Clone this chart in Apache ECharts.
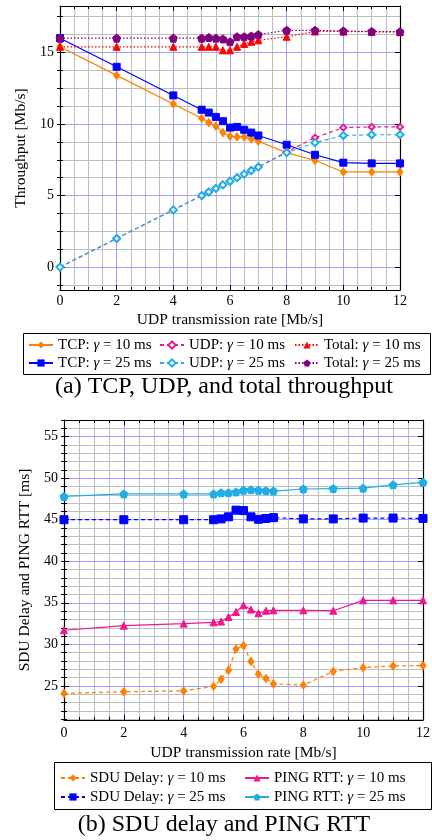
<!DOCTYPE html>
<html><head><meta charset="utf-8">
<script src="https://cdn.jsdelivr.net/npm/echarts@6/dist/echarts.min.js"></script>
<style>html,body{margin:0;padding:0;background:#fff}#c{width:432px;height:840px}</style>
</head><body><div id="c"></div>
<script>
// ---------- data ----------
const rateX = [0,2,4,5,5.25,5.5,5.75,6,6.25,6.5,6.75,7,8,9,10,11,12];
const tcp10   = [15.4,13.4,11.4,10.4,10.1,9.85,9.4,9.15,9.1,9.1,8.95,8.8,8.0,7.45,6.65,6.65,6.65];
const tcp25   = [16.0,14.0,12.0,11.0,10.8,10.5,10.2,9.75,9.8,9.6,9.4,9.2,8.55,7.85,7.3,7.25,7.25];
const udp10   = [0,2,4,5,5.25,5.5,5.75,6,6.25,6.5,6.75,7,8.05,9.05,9.75,9.8,9.8];
const udp25   = [0,2,4,5,5.25,5.5,5.75,6,6.25,6.5,6.75,7,8.0,8.7,9.2,9.25,9.25];
const total10 = [15.4,15.4,15.4,15.4,15.4,15.4,15.15,15.15,15.4,15.6,15.75,15.85,16.1,16.47,16.47,16.45,16.43];
const total25 = [16.0,16.0,16.0,16.0,16.05,16.0,15.95,15.75,16.1,16.1,16.15,16.25,16.55,16.55,16.5,16.47,16.45];
const sdu10   = [24.1,24.3,24.4,24.95,25.8,26.9,29.45,29.85,27.95,26.4,25.9,25.25,25.1,26.75,27.2,27.4,27.45];
const sdu25   = [45.0,45.0,45.0,45.0,45.1,45.35,46.15,46.1,45.35,45.05,45.15,45.25,45.1,45.1,45.2,45.2,45.15];
const ping10  = [31.7,32.25,32.5,32.65,32.75,33.3,33.9,34.7,34.2,33.75,34.05,34.1,34.1,34.05,35.3,35.3,35.3];
const ping25  = [47.8,48.1,48.1,48.1,48.25,48.25,48.35,48.55,48.6,48.55,48.5,48.45,48.7,48.75,48.8,49.2,49.5];

const thrTicks   = [0,5,10,15];
const thrMinor   = [-1.25,0,1.25,2.5,3.75,5,6.25,7.5,8.75,10,11.25,12.5,13.75,15,16.25,17.5];
const delayTicks = [25,30,35,40,45,50,55];
const delayMinor = [21,22,23,24,25,26,27,28,29,30,31,32,33,34,35,36,37,38,39,40,41,42,43,44,45,46,47,48,49,50,51,52,53,54,55,56,57];

const names = {
  tcp10:'TCP: γ = 10 ms', tcp25:'TCP: γ = 25 ms',
  udp10:'UDP: γ = 10 ms', udp25:'UDP: γ = 25 ms',
  total10:'Total: γ = 10 ms', total25:'Total: γ = 25 ms',
  sdu10:'SDU Delay: γ = 10 ms', sdu25:'SDU Delay: γ = 25 ms',
  ping10:'PING RTT: γ = 10 ms', ping25:'PING RTT: γ = 25 ms'
};
const captionA = '(a) TCP, UDP, and total throughput';
const captionB = '(b) SDU delay and PING RTT';

// ---------- style ----------
const FONT = 'Liberation Serif';
const C = {orange:'#FF8000', blue:'#0000FF', pink:'#F0168C', cyan:'#1FAEE6', red:'#FF0000', purple:'#800080'};
const PENT = 'path://M0,-1 L0.951,-0.309 L0.588,0.809 L-0.588,0.809 L-0.951,-0.309 Z';
const DASH = [4,3], DOT = [1.5,2];
const MAJ = '#9f9fff', MIN = '#bfbfbf';

const chart = echarts.init(document.getElementById('c'), null, {renderer:'canvas'});

function pts(arr){ return rateX.map((x,i)=>[x, arr[i]]); }

function xAxes(grid, yNameGap, lblMargin){
  return [
    {gridIndex:grid, type:'value', position:'bottom', min:0, max:12, interval:2, z:1,
     name:'UDP transmission rate [Mb/s]', nameLocation:'middle', nameGap:yNameGap,
     nameTextStyle:{fontFamily:FONT, fontSize:15.5, color:'#000'},
     axisLine:{show:true, onZero:false, lineStyle:{color:'#000', width:1.2}},
     axisTick:{show:true, inside:true, length:5, lineStyle:{color:'#000'}},
     minorTick:{show:true, splitNumber:4, length:3, lineStyle:{color:'#000'}},
     axisLabel:{fontFamily:FONT, fontSize:14, color:'#000', margin:lblMargin},
     splitLine:{show:true, lineStyle:{color:MAJ, width:1}},
     minorSplitLine:{show:true, lineStyle:{color:MIN, width:1.1}}},
    {gridIndex:grid, type:'value', position:'top', min:0, max:12, interval:2, z:3,
     axisLine:{show:true, onZero:false, lineStyle:{color:'#000', width:1.2}},
     axisTick:{show:true, inside:true, length:5, lineStyle:{color:'#000'}},
     minorTick:{show:true, splitNumber:4, length:3, lineStyle:{color:'#000'}},
     axisLabel:{show:false}, splitLine:{show:false}}
  ];
}
function yAxes(grid, min, max, major, minor, name, nameGap){
  const base = {gridIndex:grid, type:'value', min:min, max:max};
  return [
    Object.assign({}, base, {position:'left', z:2,
      name:name, nameLocation:'middle', nameGap:nameGap,
      nameTextStyle:{fontFamily:FONT, fontSize:15.5, color:'#000'},
      axisLine:{show:true, onZero:false, lineStyle:{color:'#000', width:1.2}},
      axisTick:{show:true, inside:true, length:5, customValues:major, lineStyle:{color:'#000'}},
      axisLabel:{fontFamily:FONT, fontSize:14, color:'#000', margin:6, customValues:major},
      splitLine:{show:true, lineStyle:{color:MAJ, width:1}}}),
    Object.assign({}, base, {position:'left', z:0,
      axisLine:{show:false}, axisLabel:{show:false},
      axisTick:{show:true, inside:true, length:3, customValues:minor, lineStyle:{color:'#000'}},
      splitLine:{show:true, lineStyle:{color:MIN, width:1.1}}}),
    Object.assign({}, base, {position:'right', z:3,
      axisLine:{show:true, onZero:false, lineStyle:{color:'#000', width:1.2}},
      axisTick:{show:true, inside:true, length:5, customValues:major, lineStyle:{color:'#000'}},
      axisLabel:{show:false}, splitLine:{show:false}}),
    Object.assign({}, base, {position:'right', z:3,
      axisLine:{show:false}, axisLabel:{show:false},
      axisTick:{show:true, inside:true, length:3, customValues:minor, lineStyle:{color:'#000'}},
      splitLine:{show:false}})
  ];
}

function ser(name, data, xi, yi, color, symbol, size, ltype, extra){
  return Object.assign({
    type:'line', name:name, data:pts(data), xAxisIndex:xi, yAxisIndex:yi,
    symbol:symbol, symbolSize:size, showSymbol:true,
    lineStyle:{color:color, width:1.2, type:ltype},
    itemStyle:{color:color, borderColor:color},
    animation:false, z:5
  }, extra||{});
}

const series = [
  ser(names.tcp10, tcp10, 0, 0, C.orange, 'diamond', [6,8], 'solid'),
  ser(names.tcp25, tcp25, 0, 0, C.blue, 'rect', 7, 'solid'),
  ser(names.udp10, udp10, 0, 0, C.pink, 'emptyDiamond', 6, DASH, {itemStyle:{color:C.pink, borderWidth:1.3}}),
  ser(names.udp25, udp25, 0, 0, C.cyan, 'emptyDiamond', 7, DASH, {itemStyle:{color:C.cyan, borderWidth:1.3}}),
  ser(names.total10, total10, 0, 0, C.red, 'triangle', 7, DOT),
  ser(names.total25, total25, 0, 0, C.purple, PENT, 8, DOT),
  ser(names.sdu10, sdu10, 2, 4, C.orange, 'diamond', [6,8], DASH),
  ser(names.sdu25, sdu25, 2, 4, C.blue, 'rect', 8, DASH),
  ser(names.ping10, ping10, 2, 4, C.pink, 'triangle', 7, 'solid'),
  ser(names.ping25, ping25, 2, 4, C.cyan, PENT, 8, 'solid')
];

function richName(n){ const p = n.split('γ'); return '{n|' + p[0] + '}{g|γ}{n|' + p[1] + '}'; }
function leg(name, left, cy){
  return {data:[name], left:left, top:cy-8, padding:0, itemGap:0, itemWidth:24, itemHeight:9,
    selectedMode:false, formatter:richName,
    textStyle:{fontFamily:FONT, fontSize:15, color:'#000', lineHeight:16,
      rich:{n:{fontFamily:FONT, fontSize:15, color:'#000'}, g:{fontFamily:FONT, fontSize:15, fontStyle:'italic', color:'#000'}}}};
}
const legends = [
  leg(names.tcp10, 28, 345), leg(names.udp10, 159, 345), leg(names.total10, 294, 345),
  leg(names.tcp25, 28, 363), leg(names.udp25, 159, 363), leg(names.total25, 294, 363),
  leg(names.sdu10, 60, 778), leg(names.ping10, 244, 778),
  leg(names.sdu25, 60, 797), leg(names.ping25, 244, 797)
];

const option = {
  backgroundColor:'#fff',
  animation:false,
  grid:[
    {left:60, top:6, width:340, height:284, outerBoundsMode:'none', containLabel:false},
    {left:64, top:420, width:359, height:300, outerBoundsMode:'none', containLabel:false}
  ],
  xAxis: xAxes(0, 22, 4).concat(xAxes(1, 25, 6)),
  yAxis: yAxes(0, -1.6, 18.25, thrTicks, thrMinor, 'Throughput [Mb/s]', 29)
         .concat(yAxes(1, 20.9, 57, delayTicks, delayMinor, 'SDU Delay and PING RTT [ms]', 31)),
  legend: legends,
  series: series,
  graphic:[
    {type:'rect', shape:{x:23.5, y:333.5, width:407, height:41}, style:{fill:'none', stroke:'#000', lineWidth:1}, silent:true},
    {type:'rect', shape:{x:54.5, y:762.5, width:377, height:47}, style:{fill:'none', stroke:'#000', lineWidth:1}, silent:true},
    {type:'text', x:224, y:387, style:{text:captionA, fontFamily:FONT, fontSize:24, fill:'#000', textAlign:'center', textVerticalAlign:'middle'}},
    {type:'text', x:224, y:825, style:{text:captionB, fontFamily:FONT, fontSize:24, fill:'#000', textAlign:'center', textVerticalAlign:'middle'}}
  ]
};
chart.setOption(option);
</script>
</body></html>
